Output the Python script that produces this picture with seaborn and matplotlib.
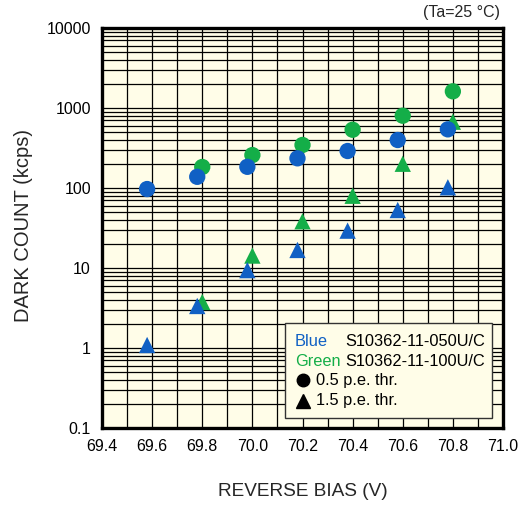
import numpy as np
import pandas as pd
import matplotlib
matplotlib.use("Agg")
import matplotlib.pyplot as plt
from matplotlib.patches import Rectangle
from matplotlib.ticker import FixedLocator, LogLocator, NullFormatter, FuncFormatter
import seaborn as sns

# Dark count vs. reverse bias for two MPPC types at two thresholds
blue_bias = [69.58, 69.78, 69.98, 70.18, 70.38, 70.58, 70.78]
blue_05pe = [97, 138, 184, 235, 290, 398, 541]
blue_15pe = [1.09, 3.35, 9.4, 16.8, 29.3, 53, 102]

green_bias = [69.80, 70.00, 70.20, 70.40, 70.60, 70.80]
green_05pe = [183, 258, 345, 535, 801, 1616]
green_15pe = [3.76, 14.3, 38.4, 80, 201, 674]

x_ticks = [69.4, 69.6, 69.8, 70.0, 70.2, 70.4, 70.6, 70.8, 71.0]
y_ticks = [0.1, 1, 10, 100, 1000, 10000]

BLUE = "#1060C4"
GREEN = "#14AE48"
PAPER = "#FFFDE8"

rows = []
for dev, bias, c05, c15 in [("Green", green_bias, green_05pe, green_15pe),
                            ("Blue", blue_bias, blue_05pe, blue_15pe)]:
    for v, a, b in zip(bias, c05, c15):
        rows.append((dev, "0.5 p.e.", v, a))
        rows.append((dev, "1.5 p.e.", v, b))
df = pd.DataFrame(rows, columns=["device", "thr", "bias", "count"])

sns.set_theme(style="white")
plt.rcParams["font.family"] = ["Liberation Sans", "DejaVu Sans"]

fig = plt.figure(figsize=(5.26, 5.05), dpi=100)
ax = fig.add_axes([102 / 526, 1 - 428 / 505, 401 / 526, 400 / 505])
ax.set_facecolor(PAPER)
ax.set_yscale("log")
ax.set_xlim(69.4, 71.0)
ax.set_ylim(0.1, 10000)

# log/linear grid
ax.xaxis.set_major_locator(FixedLocator(x_ticks))
ax.xaxis.set_minor_locator(FixedLocator(np.arange(69.5, 71.0, 0.2)))
ax.yaxis.set_major_locator(FixedLocator(y_ticks))
ax.yaxis.set_minor_locator(LogLocator(base=10, subs=np.arange(2, 10), numticks=20))
ax.yaxis.set_minor_formatter(NullFormatter())
ax.xaxis.set_major_formatter(FuncFormatter(lambda v, p: f"{v:.1f}"))
ax.yaxis.set_major_formatter(FuncFormatter(lambda v, p: f"{v:g}"))
ax.grid(which="major", axis="both", color="black", lw=0.9, zorder=0)
ax.grid(which="minor", axis="both", color="black", lw=0.9, zorder=0)
ax.set_axisbelow(True)

sns.scatterplot(data=df, x="bias", y="count", hue="device", style="thr",
                palette={"Blue": BLUE, "Green": GREEN},
                markers={"0.5 p.e.": "o", "1.5 p.e.": "^"},
                s=138, linewidth=0, legend=False, ax=ax, zorder=3)

for sp in ax.spines.values():
    sp.set_color("black")
    sp.set_linewidth(2.4)
    sp.set_zorder(5)

ax.tick_params(which="both", length=0, labelsize=11.5, colors="black")
ax.tick_params(axis="y", pad=8)
ax.tick_params(axis="x", pad=8)
ax.set_xlabel("REVERSE BIAS (V)", fontsize=13.7, va="center")
ax.xaxis.set_label_coords(0.5, -0.16)
ax.set_ylabel("DARK COUNT (kcps)", fontsize=14.5, va="center")
ax.yaxis.set_label_coords(-0.195, 0.505)

fig.text(500 / 526, 1 - 13 / 505, "(Ta=25 °C)", ha="right", va="center", fontsize=11.5)

# key box
ax.add_patch(Rectangle((0.456, 0.025), 0.5166, 0.2375, transform=ax.transAxes,
                       facecolor=PAPER, edgecolor="#333333", lw=1.0, zorder=6))
fs = 11.8
ax.text(0.481, 0.216, "Blue", color=BLUE, fontsize=fs, va="center", transform=ax.transAxes, zorder=7)
ax.text(0.606, 0.216, "S10362-11-050U/C", color="black", fontsize=fs, va="center", transform=ax.transAxes, zorder=7)
ax.text(0.481, 0.1675, "Green", color=GREEN, fontsize=fs, va="center", transform=ax.transAxes, zorder=7)
ax.text(0.606, 0.1675, "S10362-11-100U/C", color="black", fontsize=fs, va="center", transform=ax.transAxes, zorder=7)
ax.plot([0.501], [0.12], marker="o", ms=9, color="black", transform=ax.transAxes, zorder=7, clip_on=False)
ax.plot([0.501], [0.0675], marker="^", ms=10.5, color="black", transform=ax.transAxes, zorder=7, clip_on=False)
ax.text(0.534, 0.12, "0.5 p.e. thr.", color="black", fontsize=fs, va="center", transform=ax.transAxes, zorder=7)
ax.text(0.534, 0.0675, "1.5 p.e. thr.", color="black", fontsize=fs, va="center", transform=ax.transAxes, zorder=7)

fig.savefig("out.png", dpi=100)
